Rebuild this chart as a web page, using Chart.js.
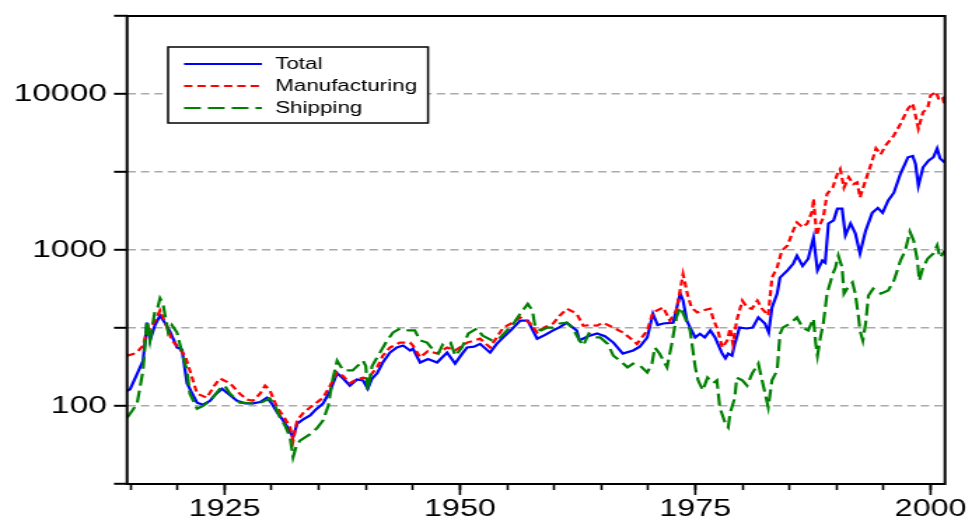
<!DOCTYPE html>
<html>
<head>
<meta charset="utf-8">
<script src="https://cdn.jsdelivr.net/npm/chart.js@4.4.1/dist/chart.umd.min.js"></script>
<style>
  html, body { margin: 0; padding: 0; background: #fff; }
  #chart { width: 972px; height: 522px; display: block; }
</style>
</head>
<body>
<!-- drawn narrow and stretched wide, like the original graph -->
<canvas id="chart" width="694" height="522" style="width:972px;height:522px"></canvas>
<script>
// Data (index level, log scale)
const totalYears = [1914.63, 1914.95, 1916.33, 1916.75, 1917.07, 1917.6, 1918.13, 1918.67, 1919.2, 1919.94, 1920.47, 1921.0, 1921.5, 1922.07, 1922.7, 1923.45, 1923.98, 1924.72, 1925.36, 1926.32, 1927.17, 1928.02, 1928.76, 1929.5, 1930.04, 1930.57, 1931.2, 1931.74, 1932.27, 1932.7, 1933.34, 1934.08, 1934.7, 1935.46, 1936.2, 1936.95, 1937.6, 1938.3, 1939.05, 1939.7, 1940.2, 1940.66, 1941.2, 1941.8, 1942.56, 1943.3, 1943.96, 1944.7, 1945.0, 1945.77, 1946.6, 1947.57, 1948.63, 1949.48, 1950.2, 1950.76, 1951.5, 1952.14, 1953.2, 1953.9, 1954.6, 1955.5, 1956.4, 1957.2, 1958.2, 1959.0, 1959.9, 1960.6, 1961.36, 1962.4, 1962.7, 1963.6, 1964.57, 1965.4, 1966.3, 1967.3, 1968.4, 1969.1, 1969.9, 1970.5, 1971.0, 1971.6, 1972.65, 1973.4, 1973.7, 1974.1, 1974.45, 1975.0, 1975.5, 1976.0, 1976.6, 1977.1, 1977.4, 1977.86, 1978.2, 1978.5, 1978.9, 1979.2, 1979.7, 1980.5, 1981.1, 1981.7, 1982.4, 1982.8, 1983.15, 1983.7, 1984.0, 1984.8, 1985.4, 1985.8, 1986.4, 1987.0, 1987.56, 1987.98, 1988.5, 1988.8, 1989.15, 1989.7, 1990.1, 1990.6, 1990.95, 1991.5, 1992.0, 1992.5, 1993.1, 1993.8, 1994.4, 1994.9, 1995.5, 1996.1, 1996.8, 1997.6, 1998.1, 1998.4, 1998.7, 1999.2, 1999.8, 2000.3, 2000.7, 2001.0, 2001.5];
const totalValues = [125, 128, 195, 342, 263, 330, 380, 340, 300, 237, 230, 140, 122, 105, 102, 108, 118, 129, 120, 108, 104, 104, 106, 113, 103, 91, 81, 72, 63, 77, 82, 87, 95, 104, 125, 162, 150, 135, 148, 146, 129, 150, 162, 190, 220, 237, 244, 227, 233, 190, 200, 190, 220, 187, 215, 237, 240, 250, 220, 250, 275, 310, 353, 353, 270, 285, 305, 320, 342, 305, 263, 280, 292, 280, 255, 217, 227, 240, 275, 390, 330, 338, 342, 525, 475, 353, 318, 275, 290, 275, 305, 275, 250, 217, 202, 217, 210, 250, 318, 314, 318, 370, 338, 296, 428, 525, 665, 740, 815, 920, 790, 880, 1200, 740, 855, 830, 1480, 1550, 1840, 1840, 1240, 1480, 1280, 950, 1330, 1730, 1860, 1730, 2080, 2330, 3080, 3930, 4010, 3560, 2580, 3390, 3750, 3930, 4480, 3870, 3640];

const mfgYears = [1914.63, 1915.27, 1915.8, 1916.33, 1916.75, 1917.07, 1917.6, 1918.13, 1918.8, 1919.4, 1920.05, 1920.8, 1921.3, 1922.07, 1923.1, 1923.9, 1924.5, 1925.57, 1926.6, 1927.4, 1928.0, 1928.76, 1929.3, 1929.8, 1930.57, 1931.3, 1931.95, 1932.27, 1932.7, 1933.34, 1934.08, 1935.46, 1936.2, 1936.95, 1937.6, 1938.3, 1939.05, 1939.7, 1940.2, 1941.2, 1941.8, 1942.56, 1943.6, 1944.7, 1945.0, 1945.77, 1946.6, 1947.57, 1948.63, 1949.48, 1950.76, 1952.14, 1953.2, 1953.9, 1954.6, 1955.5, 1956.4, 1957.4, 1958.2, 1959.0, 1959.9, 1960.6, 1961.36, 1962.4, 1963.1, 1963.8, 1964.57, 1965.2, 1966.3, 1967.3, 1968.4, 1968.8, 1969.9, 1970.5, 1971.6, 1972.3, 1973.0, 1973.7, 1974.2, 1974.6, 1975.2, 1975.8, 1976.6, 1976.9, 1977.4, 1977.86, 1978.4, 1978.7, 1979.0, 1979.4, 1980.0, 1980.5, 1981.0, 1981.6, 1982.1, 1982.75, 1983.15, 1983.7, 1984.2, 1984.8, 1985.4, 1985.8, 1986.4, 1986.9, 1987.45, 1987.56, 1987.9, 1988.3, 1988.6, 1989.0, 1989.6, 1990.1, 1990.4, 1990.8, 1991.3, 1991.8, 1992.2, 1992.5, 1993.1, 1993.8, 1994.2, 1994.7, 1995.2, 1996.1, 1996.8, 1997.6, 1998.1, 1998.4, 1998.7, 1999.2, 1999.7, 2000.0, 2000.6, 2000.9, 2001.3, 2001.5];
const mfgValues = [210, 215, 225, 244, 300, 318, 350, 409, 330, 263, 240, 210, 169, 120, 113, 135, 150, 140, 120, 110, 108, 120, 135, 126, 98, 85, 73, 60, 81, 90, 98, 113, 135, 164, 155, 140, 148, 152, 150, 177, 210, 237, 255, 255, 244, 205, 225, 217, 237, 227, 255, 270, 237, 275, 318, 340, 370, 342, 296, 320, 338, 380, 420, 390, 327, 330, 327, 342, 318, 296, 263, 250, 305, 398, 428, 353, 409, 700, 510, 428, 398, 409, 420, 363, 305, 237, 263, 314, 250, 353, 473, 428, 420, 473, 420, 380, 665, 775, 990, 1070, 1330, 1500, 1400, 1480, 1790, 2130, 1240, 1480, 1610, 2290, 2510, 3080, 3300, 2510, 2930, 2640, 2710, 2170, 2800, 3750, 4480, 4100, 4660, 5420, 6440, 8050, 8700, 7270, 6000, 7650, 8150, 9800, 10300, 9100, 9400, 8400];

const shipYears = [1914.63, 1915.27, 1915.7, 1916.33, 1916.75, 1917.07, 1917.6, 1917.9, 1918.13, 1918.45, 1919.0, 1919.4, 1919.94, 1920.6, 1921.0, 1921.3, 1922.07, 1922.7, 1923.45, 1924.5, 1925.0, 1925.57, 1926.6, 1928.0, 1929.0, 1929.8, 1930.36, 1930.9, 1931.4, 1931.95, 1932.27, 1932.6, 1933.0, 1934.08, 1934.8, 1935.46, 1936.0, 1936.5, 1936.95, 1937.6, 1938.6, 1939.7, 1940.0, 1940.2, 1940.66, 1941.1, 1941.5, 1942.26, 1942.9, 1943.64, 1944.5, 1945.2, 1945.77, 1946.5, 1947.2, 1947.7, 1948.2, 1949.0, 1949.5, 1950.2, 1950.9, 1951.8, 1952.4, 1953.4, 1954.3, 1955.0, 1955.7, 1956.4, 1957.2, 1957.7, 1958.0, 1958.6, 1959.3, 1959.9, 1960.6, 1961.36, 1962.0, 1962.6, 1963.1, 1963.7, 1964.4, 1964.9, 1965.7, 1966.3, 1967.0, 1967.8, 1968.4, 1969.1, 1969.9, 1970.4, 1970.7, 1971.2, 1972.0, 1972.5, 1973.0, 1973.4, 1973.9, 1974.45, 1975.0, 1975.3, 1975.8, 1976.3, 1976.9, 1977.3, 1977.6, 1978.2, 1978.5, 1978.7, 1979.2, 1979.4, 1980.0, 1980.5, 1981.05, 1981.7, 1982.1, 1982.75, 1983.15, 1983.7, 1984.0, 1984.3, 1985.1, 1985.8, 1986.4, 1987.0, 1987.56, 1987.8, 1987.98, 1988.3, 1988.6, 1989.0, 1989.6, 1989.9, 1990.2, 1990.6, 1990.8, 1991.2, 1991.7, 1992.0, 1992.3, 1992.5, 1992.8, 1993.1, 1993.4, 1993.9, 1994.7, 1995.5, 1996.1, 1996.8, 1997.3, 1997.8, 1998.2, 1998.6, 1998.8, 1999.2, 1999.7, 2000.3, 2000.7, 2001.0, 2001.5];
const shipValues = [84, 95, 104, 169, 353, 263, 409, 430, 490, 452, 296, 330, 296, 205, 169, 120, 96, 100, 108, 129, 135, 120, 105, 104, 106, 112, 100, 84, 75, 63, 47, 55, 60, 66, 72, 81, 100, 150, 195, 169, 169, 195, 180, 126, 180, 200, 220, 263, 296, 314, 305, 305, 263, 255, 227, 217, 250, 255, 210, 237, 292, 314, 283, 263, 275, 305, 338, 390, 452, 409, 318, 305, 318, 318, 338, 342, 314, 270, 244, 292, 275, 275, 250, 210, 195, 177, 187, 182, 164, 187, 237, 217, 177, 250, 370, 428, 370, 305, 177, 146, 126, 152, 140, 146, 98, 77, 73, 90, 113, 152, 146, 135, 162, 187, 146, 98, 146, 169, 290, 318, 338, 370, 318, 305, 363, 250, 210, 275, 338, 525, 700, 775, 920, 775, 525, 575, 620, 525, 390, 305, 263, 338, 510, 565, 525, 550, 635, 855, 990, 1310, 1150, 855, 635, 775, 880, 950, 1070, 894, 990];

const seriesNames = ['Total', 'Manufacturing', 'Shipping'];
const seriesColors = ['#0000ff', '#ff0000', '#008000'];
const seriesDash = [[], [6, 3.5], [12, 5]];

// Axis ticks
const xTickYears = [1915, 1920, 1925, 1930, 1935, 1940, 1945, 1950, 1955, 1960, 1965, 1970, 1975, 1980, 1985, 1990, 1995, 2000];
const xLabelYears = [1925, 1950, 1975, 2000];
const yTickValues = [31.6228, 100, 316.228, 1000, 3162.28, 10000, 31622.8];
const yLabelValues = [100, 1000, 10000];

const toPoints = (xs, ys) => xs.map((x, i) => ({ x: x, y: ys[i] }));

const frame = {
  id: 'frame',
  afterDraw(chart) {
    const { ctx, chartArea: a, scales: { x } } = chart;
    ctx.save();
    ctx.setLineDash([]);
    ctx.strokeStyle = '#000';
    ctx.lineWidth = 2;
    ctx.strokeRect(a.left, a.top, a.right - a.left, a.bottom - a.top);

    // labelled years get a longer tick
    ctx.lineWidth = 1.6;
    xLabelYears.forEach(yr => {
      const px = x.getPixelForValue(yr);
      ctx.beginPath();
      ctx.moveTo(px, a.bottom);
      ctx.lineTo(px, a.bottom + 11);
      ctx.stroke();
    });

    // legend box
    ctx.fillStyle = '#fff';
    ctx.fillRect(120, 47, 185.6, 76);
    ctx.lineWidth = 1.5;
    ctx.strokeRect(120, 47, 185.6, 76);
    ctx.font = '16px "Liberation Sans", Arial, sans-serif';
    ctx.textBaseline = 'middle';
    seriesNames.forEach((name, i) => {
      const y = 64 + i * 22;
      ctx.strokeStyle = seriesColors[i];
      ctx.lineWidth = 2;
      ctx.setLineDash(seriesDash[i]);
      ctx.beginPath();
      ctx.moveTo(131.4, y);
      ctx.lineTo(187, y);
      ctx.stroke();
      ctx.setLineDash([]);
      ctx.fillStyle = '#000';
      ctx.fillText(name, 196.4, y + 1);
    });
    ctx.restore();
  }
};

Chart.defaults.font.family = '"Liberation Sans", Arial, sans-serif';
Chart.defaults.color = '#000';

new Chart(document.getElementById('chart'), {
  type: 'line',
  data: {
    datasets: [
      { label: seriesNames[0], data: toPoints(totalYears, totalValues) },
      { label: seriesNames[1], data: toPoints(mfgYears, mfgValues) },
      { label: seriesNames[2], data: toPoints(shipYears, shipValues) }
    ].map((d, i) => Object.assign(d, {
      borderColor: seriesColors[i],
      borderWidth: 2.2,
      borderDash: seriesDash[i],
      pointRadius: 0,
      tension: 0,
      fill: false
    })).reverse()
  },
  options: {
    responsive: false,
    devicePixelRatio: 1,
    animation: false,
    layout: { padding: { left: 0, right: 19.3, top: 16, bottom: 0 } },
    plugins: { legend: { display: false }, tooltip: { enabled: false } },
    scales: {
      x: {
        type: 'linear',
        min: 1914.63,
        max: 2001.53,
        grid: {
          display: true,
          drawOnChartArea: false,
          drawTicks: true,
          tickLength: 6,
          tickWidth: 1.6,
          tickColor: '#000'
        },
        border: { display: false },
        afterBuildTicks: s => { s.ticks = xTickYears.map(v => ({ value: v })); },
        afterFit: s => { s.height = 38; s.paddingLeft = 0; s.paddingRight = 0; },
        ticks: {
          autoSkip: false,
          maxRotation: 0,
          padding: 6,
          font: { size: 23 },
          callback: v => xLabelYears.includes(v) ? String(v) : ''
        }
      },
      y: {
        type: 'logarithmic',
        min: 31.6228,
        max: 31622.8,
        border: { display: false, dash: [6, 3.6] },
        grid: {
          color: c => (c.tick && (c.tick.value < 40 || c.tick.value > 30000)) ? 'rgba(0,0,0,0)' : '#aaaaaa',
          lineWidth: 1.6,
          tickColor: '#000',
          tickWidth: 2,
          tickLength: 9.3
        },
        afterBuildTicks: s => { s.ticks = yTickValues.map(v => ({ value: v })); },
        afterFit: s => { s.width = 90.7; s.paddingTop = 0; s.paddingBottom = 0; },
        ticks: {
          autoSkip: false,
          padding: 5,
          font: { size: 24 },
          callback: v => yLabelValues.some(l => Math.abs(l - v) < 0.01) ? String(Math.round(v)) : ''
        }
      }
    }
  },
  plugins: [frame]
});
</script>
</body>
</html>
